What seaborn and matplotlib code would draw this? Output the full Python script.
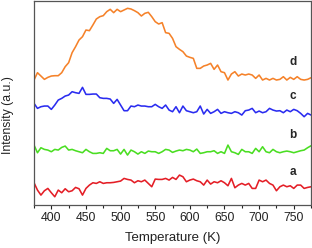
import numpy as np
import pandas as pd
import seaborn as sns
import matplotlib
matplotlib.use("Agg")
import matplotlib.pyplot as plt
from matplotlib.ticker import MultipleLocator

# temperature axis, 5 K steps
temperature = list(range(375, 780, 5))

# intensities (arbitrary units, offset traces)
curve_d = [375, 397, 387, 377, 383, 387, 388, 388, 397, 415,
           427, 457, 475, 495, 505, 525, 523, 540, 558, 565,
           568, 580, 587, 577, 587, 580, 585, 590, 588, 583,
           577, 567, 575, 578, 565, 550, 543, 547, 517, 515,
           500, 475, 467, 460, 447, 443, 440, 410, 410, 417,
           420, 425, 407, 420, 400, 397, 375, 393, 400, 387,
           393, 390, 393, 390, 380, 390, 375, 380, 375, 380,
           375, 377, 385, 375, 383, 377, 385, 377, 375, 377,
           382]
curve_c = [305, 290, 295, 297, 297, 287, 300, 315, 320, 327,
           330, 340, 337, 335, 353, 332, 332, 333, 333, 322,
           320, 320, 318, 305, 317, 300, 283, 283, 297, 295,
           300, 297, 297, 295, 295, 302, 295, 290, 300, 285,
           280, 295, 277, 297, 283, 280, 277, 280, 297, 273,
           287, 275, 280, 287, 275, 280, 277, 275, 280, 277,
           270, 283, 285, 290, 277, 282, 277, 280, 290, 285,
           282, 283, 277, 285, 280, 287, 283, 275, 265, 275,
           270]
curve_b = [180, 157, 172, 167, 165, 160, 167, 165, 173, 177,
           165, 167, 163, 160, 157, 167, 160, 155, 155, 157,
           155, 170, 163, 163, 167, 153, 167, 150, 165, 160,
           153, 160, 155, 162, 160, 160, 155, 160, 167, 165,
           158, 162, 165, 163, 167, 165, 160, 168, 155, 157,
           160, 160, 163, 155, 160, 155, 180, 160, 157, 152,
           167, 160, 160, 155, 170, 160, 175, 160, 157, 167,
           160, 157, 160, 162, 160, 157, 160, 163, 165, 172,
           178]
curve_a = [67, 45, 30, 43, 50, 37, 25, 45, 37, 49,
           40, 43, 53, 49, 30, 50, 60, 67, 65, 70,
           65, 67, 67, 68, 70, 72, 80, 77, 75, 67,
           73, 70, 75, 65, 55, 78, 77, 77, 80, 75,
           83, 77, 90, 85, 70, 75, 78, 73, 70, 60,
           75, 63, 70, 67, 73, 67, 58, 80, 52, 60,
           65, 60, 65, 50, 50, 75, 70, 75, 65, 60,
           43, 55, 60, 55, 58, 50, 60, 60, 50, 53,
           55]

labels = ["a", "b", "c", "d"]
label_y = [100, 210, 328, 430]
colors = ["#e41e26", "#4ade22", "#2a2cf0", "#f5822a"]

sns.set_style("ticks")
plt.rcParams['font.family'] = ['Liberation Sans', 'DejaVu Sans']

fig = plt.figure(figsize=(3.12, 2.48), dpi=100)
ax = fig.add_axes([0.109, 0.173, 0.888, 0.823])

for series, col in zip([curve_a, curve_b, curve_c, curve_d], colors):
    sns.lineplot(x=temperature, y=series, color=col, linewidth=1.15, ax=ax)

for lab, yy in zip(labels, label_y):
    ax.text(749, yy, lab, fontsize=8.5, fontweight='bold', ha='center', va='center')

ax.set_xlim(375, 775)
ax.set_ylim(0, 612)
ax.xaxis.set_major_locator(MultipleLocator(50))
ax.xaxis.set_minor_locator(MultipleLocator(25))
ax.set_yticks([])
ax.tick_params(axis='x', which='major', length=3, width=0.8, labelsize=8.8, colors='#222222', pad=2)
ax.tick_params(axis='x', which='minor', length=2, width=0.8)
for s in ax.spines.values():
    s.set_visible(True)
    s.set_color('#555555')
    s.set_linewidth(0.9)
ax.set_xlabel('Temperature (K)', fontsize=9.5, labelpad=6, color='#222222')
ax.set_ylabel('Intensity (a.u.)', fontsize=8.8, color='#222222',
              family=['Liberation Sans Narrow', 'Liberation Sans', 'DejaVu Sans'])
ax.yaxis.set_label_coords(-0.072, 0.44)

fig.savefig('out.png', dpi=100)
